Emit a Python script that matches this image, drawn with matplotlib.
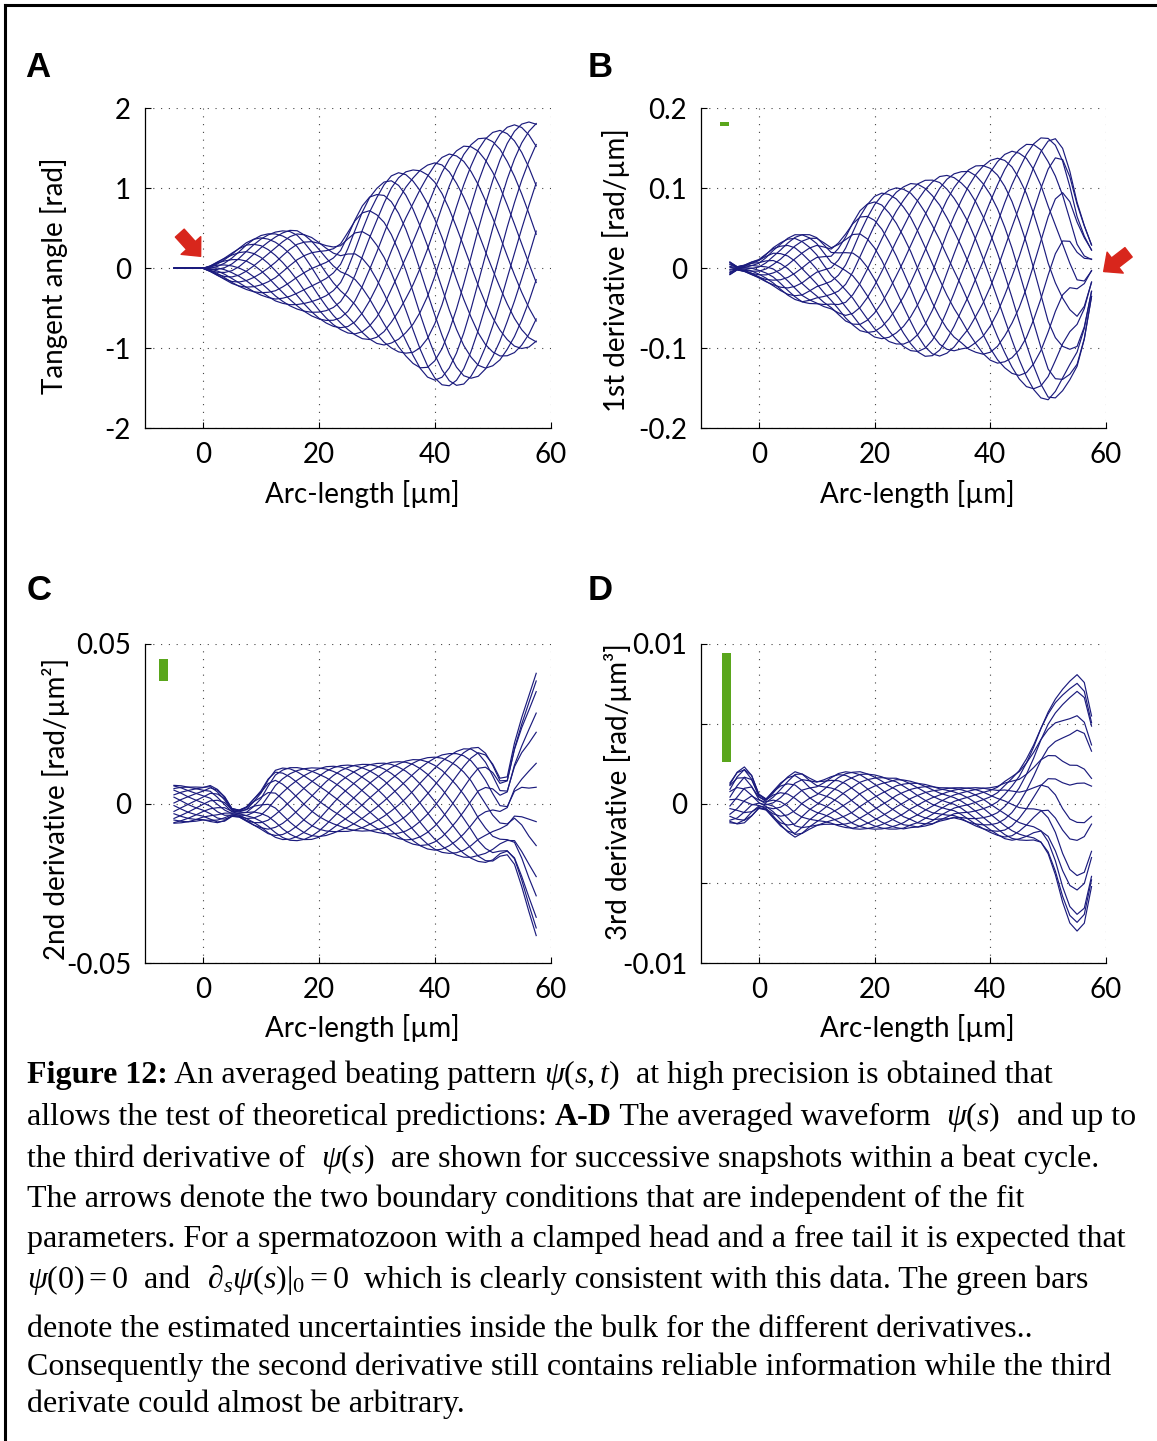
import matplotlib
matplotlib.use("Agg")
import matplotlib.pyplot as plt
import numpy as np
from matplotlib.lines import Line2D
from matplotlib.patches import Rectangle

W, H = 1157, 1441

plt.rcParams["axes.unicode_minus"] = False
plt.rcParams["text.color"] = "black"
plt.rcParams["mathtext.fontset"] = "custom"
plt.rcParams["mathtext.rm"] = "Liberation Serif"
plt.rcParams["mathtext.it"] = "Liberation Serif:italic"
plt.rcParams["mathtext.bf"] = "Liberation Serif:bold"

# ---- data: snapshots of psi(s,t) and its derivatives along the flagellum ----
N_SNAPSHOTS = 14
arc_um = [-5.0, -3.75, -2.5, -1.25, 0.0, 1.25, 2.5, 3.75, 5.0, 6.25, 7.5, 8.75, 10.0,
          11.25, 12.5, 13.75, 15.0, 16.25, 17.5, 18.75, 20.0, 21.25, 22.5, 23.75, 25.0,
          26.25, 27.5, 28.75, 30.0, 31.25, 32.5, 33.75, 35.0, 36.25, 37.5, 38.75, 40.0,
          41.25, 42.5, 43.75, 45.0, 46.25, 47.5, 48.75, 50.0, 51.25, 52.5, 53.75, 55.0,
          56.25, 57.5]

# A: tangent angle [rad], upper / lower edge of the snapshot family and wave phase (cycles)
angle_upper = [0, 0, 0, 0, 0, 0.03, 0.08, 0.13, 0.19, 0.255, 0.32, 0.37, 0.41, 0.435, 0.455,
               0.47, 0.48, 0.47, 0.43, 0.385, 0.33, 0.285, 0.27, 0.31, 0.45, 0.62, 0.78, 0.91,
               1.0, 1.09, 1.16, 1.2, 1.22, 1.23, 1.255, 1.29, 1.34, 1.39, 1.44, 1.48, 1.53,
               1.57, 1.62, 1.66, 1.70, 1.74, 1.77, 1.80, 1.82, 1.83, 1.84]
angle_lower = [0, 0, 0, 0, 0, -0.04, -0.09, -0.14, -0.19, -0.23, -0.265, -0.30, -0.335, -0.37,
               -0.41, -0.44, -0.475, -0.51, -0.55, -0.595, -0.64, -0.685, -0.73, -0.77, -0.81,
               -0.845, -0.88, -0.91, -0.94, -0.97, -1.0, -1.05, -1.11, -1.19, -1.28, -1.36,
               -1.42, -1.46, -1.48, -1.475, -1.45, -1.40, -1.35, -1.29, -1.22, -1.16, -1.1,
               -1.06, -1.02, -0.985, -0.95]
angle_phase = [-0.525, -0.494, -0.463, -0.431, -0.4, -0.369, -0.338, -0.306, -0.275, -0.244,
               -0.213, -0.181, -0.15, -0.119, -0.088, -0.056, -0.025, 0.006, 0.038, 0.069,
               0.1, 0.131, 0.163, 0.194, 0.225, 0.256, 0.288, 0.319, 0.35, 0.381, 0.413,
               0.444, 0.475, 0.506, 0.538, 0.569, 0.6, 0.631, 0.663, 0.694, 0.725, 0.756,
               0.788, 0.819, 0.85, 0.881, 0.913, 0.944, 0.975, 1.006, 1.038]

# B: 1st derivative [rad/um]
slope_upper = [0.008, 0.002, 0.004, 0.008, 0.011, 0.018, 0.026, 0.032, 0.038, 0.042, 0.043,
               0.042, 0.039, 0.032, 0.026, 0.032, 0.043, 0.058, 0.072, 0.082, 0.090, 0.095,
               0.098, 0.101, 0.103, 0.106, 0.108, 0.110, 0.112, 0.115, 0.117, 0.119, 0.121,
               0.125, 0.128, 0.131, 0.135, 0.139, 0.143, 0.147, 0.150, 0.155, 0.159, 0.163,
               0.165, 0.163, 0.150, 0.122, 0.084, 0.055, 0.030]
slope_lower = [-0.008, -0.002, -0.004, -0.008, -0.012, -0.017, -0.022, -0.028, -0.034, -0.039,
               -0.043, -0.044, -0.045, -0.048, -0.051, -0.058, -0.066, -0.072, -0.078, -0.082,
               -0.086, -0.089, -0.092, -0.095, -0.099, -0.103, -0.107, -0.110, -0.111, -0.110,
               -0.107, -0.104, -0.101, -0.103, -0.105, -0.110, -0.115, -0.120, -0.125, -0.132,
               -0.140, -0.148, -0.155, -0.162, -0.167, -0.163, -0.153, -0.140, -0.124, -0.090,
               -0.036]
slope_phase = [-0.275, -0.244, -0.213, -0.181, -0.15, -0.119, -0.088, -0.056, -0.025, 0.006,
               0.038, 0.069, 0.1, 0.131, 0.163, 0.194, 0.225, 0.256, 0.288, 0.319, 0.35,
               0.381, 0.413, 0.444, 0.475, 0.506, 0.538, 0.569, 0.6, 0.631, 0.663, 0.694,
               0.725, 0.756, 0.788, 0.819, 0.85, 0.881, 0.913, 0.944, 0.975, 1.006, 1.038,
               1.069, 1.1, 1.125, 1.145, 1.16, 1.17, 1.175, 1.18]

# C: 2nd derivative [rad/um^2]
curv_upper = [0.0058, 0.0056, 0.0053, 0.0052, 0.0052, 0.0057, 0.0045, 0.0022, -0.0015, -0.002,
              -0.001, 0.0015, 0.004, 0.0078, 0.0105, 0.0112, 0.0114, 0.0113, 0.0112, 0.0112,
              0.0113, 0.0116, 0.0118, 0.012, 0.0121, 0.0122, 0.0123, 0.0125, 0.0126, 0.0128,
              0.013, 0.0132, 0.0135, 0.0138, 0.0141, 0.0144, 0.0148, 0.0153, 0.0158, 0.0165,
              0.0172, 0.0177, 0.0176, 0.016, 0.0126, 0.008, 0.0084, 0.019, 0.027, 0.034, 0.041]
curv_lower = [-0.0062, -0.006, -0.0058, -0.0055, -0.0052, -0.0056, -0.006, -0.0055, -0.004,
              -0.0042, -0.0055, -0.0068, -0.008, -0.0095, -0.0106, -0.0113, -0.0116, -0.0116,
              -0.0115, -0.0112, -0.0107, -0.0100, -0.0093, -0.0088, -0.0087, -0.0086, -0.0086,
              -0.0087, -0.009, -0.0095, -0.0102, -0.011, -0.0119, -0.0127, -0.0135, -0.0142,
              -0.0148, -0.0153, -0.0157, -0.0162, -0.0168, -0.0174, -0.0181, -0.0186, -0.0182,
              -0.0165, -0.016, -0.019, -0.026, -0.034, -0.0415]
curv_phase = [-0.025, 0.006, 0.038, 0.069, 0.1, 0.131, 0.163, 0.194, 0.225, 0.256, 0.288,
              0.319, 0.35, 0.381, 0.413, 0.444, 0.475, 0.506, 0.538, 0.569, 0.6, 0.631,
              0.663, 0.694, 0.725, 0.756, 0.788, 0.819, 0.85, 0.881, 0.913, 0.944, 0.975,
              1.006, 1.038, 1.069, 1.1, 1.131, 1.163, 1.194, 1.225, 1.256, 1.288, 1.31, 1.33,
              1.345, 1.355, 1.36, 1.365, 1.37, 1.372]

# D: 3rd derivative [rad/um^3]
dcurv_upper = [0.0013, 0.002, 0.0023, 0.0018, 0.0006, 0.0003, 0.0008, 0.0013, 0.0017, 0.002,
               0.0019, 0.0016, 0.0014, 0.0015, 0.0017, 0.0019, 0.002, 0.002, 0.002, 0.0019,
               0.0018, 0.0017, 0.0016, 0.0016, 0.0015, 0.0014, 0.0013, 0.0012, 0.0011, 0.001,
               0.001, 0.001, 0.001, 0.001, 0.001, 0.001, 0.001, 0.0011, 0.0014, 0.0017, 0.0021,
               0.0028, 0.0037, 0.0048, 0.0058, 0.0066, 0.0072, 0.0077, 0.0081, 0.0076, 0.0055]
dcurv_lower = [-0.0012, -0.0013, -0.0012, -0.0008, -0.0003, -0.0004, -0.0009, -0.0014, -0.0018,
               -0.0021, -0.0019, -0.0016, -0.0014, -0.0013, -0.0013, -0.0014, -0.0015, -0.0016,
               -0.0016, -0.0016, -0.0016, -0.0016, -0.0016, -0.0016, -0.0016, -0.0015, -0.0015,
               -0.0014, -0.0013, -0.0011, -0.001, -0.0009, -0.001, -0.0012, -0.0014, -0.0016,
               -0.0018, -0.002, -0.0022, -0.0023, -0.0023, -0.0023, -0.0023, -0.0025, -0.0032,
               -0.0045, -0.0062, -0.0075, -0.008, -0.0075, -0.0052]
dcurv_phase = [0.225, 0.256, 0.288, 0.319, 0.35, 0.381, 0.413, 0.444, 0.475, 0.506, 0.538,
               0.569, 0.6, 0.631, 0.663, 0.694, 0.725, 0.756, 0.788, 0.819, 0.85, 0.881,
               0.913, 0.944, 0.975, 1.006, 1.038, 1.069, 1.1, 1.131, 1.163, 1.194, 1.225,
               1.256, 1.288, 1.319, 1.35, 1.381, 1.413, 1.444, 1.475, 1.5, 1.52, 1.535,
               1.545, 1.55, 1.555, 1.558, 1.56, 1.562, 1.564]

# green uncertainty bars (B, C, D): s range and value range
err_s = [(-6.7, -5.2), (-7.5, -6.0), (-6.4, -4.9)]
err_y = [(0.178, 0.183), (0.0384, 0.0453), (0.00263, 0.00942)]

NAVY = "#1b1b7d"
GREEN = "#5aa61c"
RED = "#d8261c"
SANS = dict(family="Lato", color="black")


def snapshots(upper, lower, phase):
    upper, lower, phase = map(np.asarray, (upper, lower, phase))
    mid, half = (upper + lower) / 2, (upper - lower) / 2
    return [mid + half * np.cos(2 * np.pi * (phase - j / N_SNAPSHOTS))
            for j in range(N_SNAPSHOTS)]


def style_axes(ax, yticks, ylabels, ylim):
    ax.set_xlim(-10, 60)
    ax.set_ylim(*ylim)
    ax.set_xticks([0, 20, 40, 60])
    ax.set_yticks(yticks)
    ax.set_yticklabels(ylabels)
    for sp in ("top", "right"):
        ax.spines[sp].set_visible(False)
    for sp in ("left", "bottom"):
        ax.spines[sp].set_linewidth(0.9)
    ax.tick_params(direction="in", length=4, width=0.8, labelsize=20, pad=10)
    for lab in ax.get_xticklabels() + ax.get_yticklabels():
        lab.set(**SANS)
    ax.grid(True, color="#444444", linestyle=(0, (1, 6)), linewidth=0.8)
    ax.set_axisbelow(True)


def axes_at(fig, left, top, right, bottom):
    return fig.add_axes([left / W, 1 - bottom / H, (right - left) / W, (bottom - top) / H])


fig = plt.figure(figsize=(W / 100, H / 100), dpi=100)

panels = [
    ("A", (145, 108.3, 550.7, 428.3), (angle_upper, angle_lower, angle_phase),
     [-2, -1, 0, 1, 2], ["-2", "-1", "0", "1", "2"], (-2, 2),
     "Tangent angle [rad]", (-0.19, 0.476), 25, 77),
    ("B", (701, 108.3, 1106, 428.3), (slope_upper, slope_lower, slope_phase),
     [-0.2, -0.1, 0, 0.1, 0.2], ["-0.2", "-0.1", "0", "0.1", "0.2"], (-0.2, 0.2),
     "1st derivative [rad/µm]", (-0.175, 0.495), 588, 77),
    ("C", (145, 644, 550.7, 963.3), (curv_upper, curv_lower, curv_phase),
     [-0.05, 0, 0.05], ["-0.05", "0", "0.05"], (-0.05, 0.05),
     "2nd derivative [rad/µm²]", (-0.185, 0.483), 27, 600),
    ("D", (701, 644, 1106, 963.3), (dcurv_upper, dcurv_lower, dcurv_phase),
     [-0.01, -0.005, 0, 0.005, 0.01], ["-0.01", "", "0", "", "0.01"], (-0.01, 0.01),
     "3rd derivative [rad/µm³]", (-0.17, 0.537), 588, 600),
]

axes = []
for letter, box, series, yt, yl, ylim, ylab, ylab_xy, lx, ly in panels:
    ax = axes_at(fig, *box)
    style_axes(ax, yt, yl, ylim)
    for curve in snapshots(*series):
        ax.plot(arc_um, curve, color=NAVY, lw=0.85, clip_on=False)
    ax.set_xlabel("Arc-length [µm]", fontsize=20, **SANS)
    ax.xaxis.set_label_coords(0.535, -0.16)
    ax.set_ylabel(ylab, fontsize=20, **SANS)
    ax.yaxis.set_label_coords(*ylab_xy)
    fig.text(lx / W, 1 - ly / H, letter, fontsize=25, fontweight="bold",
             family="Liberation Sans", va="baseline")
    axes.append(ax)

# uncertainty bars
for ax, (s0, s1), (y0, y1) in zip(axes[1:], err_s, err_y):
    ax.add_patch(Rectangle((s0, y0), s1 - s0, y1 - y0, color=GREEN, lw=0, zorder=3))

# boundary-condition arrows
arrow_kw = dict(arrowstyle="simple,head_length=0.55,head_width=1.0,tail_width=0.45",
                color=RED, mutation_scale=19, shrinkA=0, shrinkB=0)
axes[0].annotate("", xy=(-0.4, 0.15), xytext=(-4.0, 0.44), arrowprops=arrow_kw,
                 annotation_clip=False)
axes[1].annotate("", xy=(59.6, -0.004), xytext=(63.9, 0.02), arrowprops=arrow_kw,
                 annotation_clip=False)

# page frame
fig.add_artist(Line2D([5 / W, 5 / W], [0, 1 - 5 / H], transform=fig.transFigure,
                      color="black", lw=2.2))
fig.add_artist(Line2D([5 / W, 1], [1 - 5 / H, 1 - 5 / H], transform=fig.transFigure,
                      color="black", lw=2.2))

# caption, drawn run by run
CAP = dict(family="Liberation Serif", fontsize=23)
caption = [
    (1083, [("Figure 12:", "b"), (" An averaged beating pattern ", ""), (r"$\psi(s,t)$", ""),
            ("  at high precision is obtained that", "")]),
    (1125, [("allows the test of theoretical predictions: ", ""), ("A-D", "b"),
            (" The averaged waveform  ", ""), (r"$\psi(s)$", ""), ("  and up to", "")]),
    (1167, [("the third derivative of  ", ""), (r"$\psi(s)$", ""),
            ("  are shown for successive snapshots within a beat cycle.", "")]),
    (1207, [("The arrows denote the two boundary conditions that are independent of the fit", "")]),
    (1247, [("parameters. For a spermatozoon with a clamped head and a free tail it is expected that", "")]),
    (1288, [(r"$\psi(0) = 0$", ""), ("  and  ", ""), (r"$\partial_s\psi(s)|_0 = 0$", ""),
            ("  which is clearly consistent with this data. The green bars", "")]),
    (1337, [("denote the estimated uncertainties inside the bulk for the different derivatives..", "")]),
    (1375, [("Consequently the second derivative still contains reliable information while the third", "")]),
    (1412, [("derivate could almost be arbitrary.", "")]),
]

fig.canvas.draw()
renderer = fig.canvas.get_renderer()
for y_px, runs in caption:
    x = 27 / W
    for txt, flag in runs:
        t = fig.text(x, 1 - y_px / H, txt, va="baseline", ha="left",
                     fontweight="bold" if flag == "b" else "normal", **CAP)
        x += t.get_window_extent(renderer).width / fig.bbox.width

fig.savefig("out.png", dpi=100)
